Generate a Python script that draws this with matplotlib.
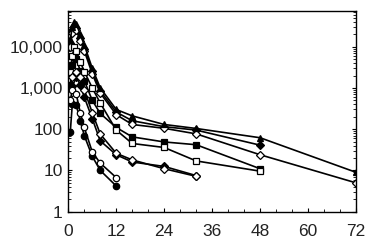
import matplotlib
matplotlib.use("Agg")
import matplotlib.pyplot as plt
from matplotlib.ticker import FixedLocator, LogLocator, NullFormatter, FuncFormatter

plt.rcParams['font.family'] = ['Liberation Sans', 'DejaVu Sans']

# Series: times (h) and concentrations
t_a = [0.5, 1, 1.5, 2, 3, 4, 6, 8, 12, 16, 24, 32, 48, 72]
v_a = [15000, 30000, 40000, 35000, 20000, 11000, 3000, 1000, 300, 210, 130, 104, 62, 9]

t_b = [0.5, 1, 1.5, 2, 3, 4, 6, 8, 12, 16, 24, 32, 48, 72]
v_b = [10000, 22000, 28000, 25000, 14000, 8000, 2200, 750, 225, 130, 105, 77, 24, 5]

t_c = [0.5, 1, 1.5, 2, 3, 4, 6, 8, 12, 16, 24, 32, 48]
v_c = [12000, 25000, 32000, 28000, 16000, 9000, 2600, 850, 260, 160, 115, 95, 41]

t_d = [0.5, 1, 1.5, 2, 3, 4, 6, 8, 12, 16, 24, 32, 48]
v_d = [1200, 3500, 5500, 5000, 2600, 1500, 500, 240, 110, 65, 49, 42, 11]

t_e = [0.5, 1, 1.5, 2, 3, 4, 6, 8, 12, 16, 24, 32, 48]
v_e = [2500, 6000, 9800, 8000, 4300, 2500, 1000, 430, 95, 45, 36, 17, 9.6]

t_f = [0.5, 1, 2, 3, 4, 6, 8, 12, 16, 24, 32]
v_f = [700, 1800, 2500, 1800, 900, 250, 76, 26, 18, 11, 7.2]

t_g = [0.5, 1, 2, 3, 4, 6, 8, 12, 16, 24, 32]
v_g = [450, 1100, 1800, 1200, 600, 180, 52, 24, 16, 12.5, 7.5]

t_h = [0.5, 1, 2, 3, 4, 6, 8, 12]
v_h = [500, 900, 700, 250, 110, 28, 15, 6.7]

t_i = [0.5, 1, 2, 3, 4, 6, 8, 12]
v_i = [86, 400, 380, 160, 70, 22, 10, 4.2]

series = [
    (t_c, v_c, 'D', 'k'),
    (t_b, v_b, 'D', 'w'),
    (t_a, v_a, '^', 'k'),
    (t_d, v_d, 's', 'k'),
    (t_e, v_e, 's', 'w'),
    (t_g, v_g, 'D', 'k'),
    (t_f, v_f, 'D', 'w'),
    (t_i, v_i, 'o', 'k'),
    (t_h, v_h, 'o', 'w'),
]

x_ticks = [0, 12, 24, 36, 48, 60, 72]
y_ticks = [1, 10, 100, 1000, 10000]

fig = plt.figure(figsize=(3.66, 2.45), dpi=100)
ax = fig.add_axes([0.1866, 0.136, 0.7860, 0.820])

for t, v, m, fc in series:
    ms = 4.2 if m == 'D' else 4.6
    ax.plot(t, v, color='k', lw=1.2, marker=m, ms=ms, mfc=fc, mec='k', mew=0.9)

ax.set_yscale('log')
ax.set_xlim(0, 72)
ax.set_ylim(1, 10 ** 4.87)
ax.xaxis.set_major_locator(FixedLocator(x_ticks))
ax.xaxis.set_minor_locator(FixedLocator(list(range(0, 73, 4))))
ax.yaxis.set_major_locator(FixedLocator(y_ticks))
ax.yaxis.set_minor_locator(LogLocator(base=10, subs=range(2, 10)))
ax.yaxis.set_minor_formatter(NullFormatter())
ax.yaxis.set_major_formatter(FuncFormatter(lambda v, p: f"{int(round(v)):,}"))

ax.tick_params(axis='both', which='both', direction='in', colors='k', labelcolor='#222222', labelsize=12.5)
ax.tick_params(axis='y', which='both', left=True, right=True)
ax.tick_params(axis='y', which='major', length=3, pad=4)
ax.tick_params(axis='y', which='minor', length=2)
ax.tick_params(axis='x', which='major', length=3, pad=9)
ax.tick_params(axis='x', which='minor', length=2)
for s in ax.spines.values():
    s.set_linewidth(1.0)

fig.savefig('out.png', dpi=100)
